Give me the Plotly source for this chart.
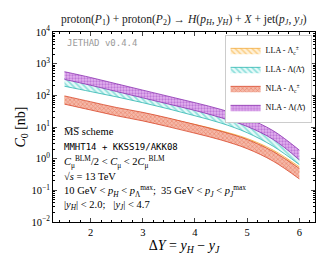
import plotly.graph_objects as go

# Delta Y grid
dy = [1.5, 2.0, 2.5, 3.0, 3.5, 4.0, 4.5, 5.0, 5.5, 6.0]

# LLA - Lambda_c
lla_lc_hi = [89.3, 58.6, 38.4, 27.0, 18.3, 12.0, 7.6, 4.33, 1.86, 0.55]
lla_lc_lo = [58.6, 38.4, 25.2, 17.1, 11.2, 7.08, 4.33, 2.38, 1.02, 0.38]
# LLA - Lambda
lla_l_hi = [340, 223, 141, 89.3, 56.5, 35.8, 21.8, 11.2, 4.33, 1.22]
lla_l_lo = [194, 131.6, 89.3, 58.6, 37.1, 22.6, 13.3, 6.6, 2.46, 0.65]
# NLA - Lambda_c
nla_lc_hi = [95.9, 62.8, 41.2, 29.0, 19.0, 12.0, 7.33, 4.03, 1.67, 0.49]
nla_lc_lo = [52.7, 34.5, 22.6, 15.6, 10.1, 6.37, 3.89, 2.07, 0.83, 0.23]
# NLA - Lambda
nla_l_hi = [557, 366, 231, 146, 92.5, 58.6, 35.8, 19.0, 7.6, 1.86]
nla_l_lo = [318, 208, 131.6, 83.2, 52.7, 33.3, 19.7, 10.4, 4.03, 0.92]

y_tickvals = [1e-2, 1e-1, 1e0, 1e1, 1e2, 1e3, 1e4]
y_ticktext = ["10<sup>−2</sup>", "10<sup>−1</sup>", "10<sup>0</sup>", "10<sup>1</sup>",
              "10<sup>2</sup>", "10<sup>3</sup>", "10<sup>4</sup>"]
y_minor = [m * 10 ** e for e in range(-2, 4) for m in range(2, 10)]

SERIF = "Liberation Serif, DejaVu Serif, serif"
MONO = "DejaVu Sans Mono, Liberation Mono, monospace"

bands = [
    ("LLA - Λ<sub>c</sub><sup>±</sup>", lla_lc_lo, lla_lc_hi, "#f2a93b",
     dict(shape="\\", fgcolor="#f5a623", bgcolor="#fff0d6", size=4, solidity=0.35)),
    ("LLA - Λ(Λ̄)", lla_l_lo, lla_l_hi, "#2bb5b0",
     dict(shape="\\", fgcolor="#34c3bd", bgcolor="#e6faf9", size=4, solidity=0.4)),
    ("NLA - Λ<sub>c</sub><sup>±</sup>", nla_lc_lo, nla_lc_hi, "#d9482b",
     dict(shape="x", fgcolor="#e0603c", bgcolor="#f5b8a8", size=3, solidity=0.4)),
    ("NLA - Λ(Λ̄)", nla_l_lo, nla_l_hi, "#8a2fb0",
     dict(shape=".", fgcolor="#9a40c0", bgcolor="#e2b2ef", size=3, solidity=0.45)),
]

fig = go.Figure()
for name, lo, hi, col, pat in bands:
    fig.add_trace(go.Scatter(x=dy, y=lo, mode="lines", line=dict(color=col, width=0.8, shape="spline"),
                             showlegend=False, hoverinfo="skip"))
    fig.add_trace(go.Scatter(x=dy, y=hi, mode="lines", line=dict(color=col, width=0.8, shape="spline"),
                             fill="tonexty", fillcolor=pat["bgcolor"], fillpattern=pat, name=name))

title = ("proton(<i>P</i><sub>1</sub>) + proton(<i>P</i><sub>2</sub>) → <i>H</i>(<i>p<sub>H</sub></i>, <i>y<sub>H</sub></i>)"
         " + <i>X</i> + jet(<i>p<sub>J</sub></i>, <i>y<sub>J</sub></i>)")

fig.update_layout(
    width=326, height=253,
    margin=dict(l=44, r=19, t=24, b=33),
    paper_bgcolor="white", plot_bgcolor="white",
    font=dict(family=SERIF, size=10, color="black"),
    showlegend=True,
    legend=dict(x=0.655, y=0.985, xanchor="left", yanchor="top",
                bgcolor="white", bordercolor="#cccccc", borderwidth=1,
                font=dict(family=SERIF, size=8), tracegroupgap=0,
                traceorder="normal", itemwidth=30),
    xaxis=dict(range=[1.28, 6.3], dtick=1, tick0=0, ticks="inside", ticklen=4,
               showline=True, linecolor="black", linewidth=1, mirror="ticks",
               showgrid=False, zeroline=False,
               tickfont=dict(family=SERIF, size=10.5),
               minor=dict(dtick=0.2, tick0=0, ticks="inside", ticklen=2, tickcolor="black"),
               title=dict(text="Δ<i>Y</i> = <i>y<sub>H</sub></i> − <i>y<sub>J</sub></i>",
                          font=dict(family=SERIF, size=14), standoff=2)),
    yaxis=dict(type="log", range=[-2, 4], tickvals=y_tickvals, ticktext=y_ticktext,
               ticks="inside", ticklen=4,
               showline=True, linecolor="black", linewidth=1, mirror="ticks",
               showgrid=False, zeroline=False,
               tickfont=dict(family=SERIF, size=10.5),
               minor=dict(tickvals=y_minor, ticks="inside", ticklen=2, tickcolor="black"),
               title=dict(text="<i>C</i><sub>0</sub> [nb]", font=dict(family=SERIF, size=14), standoff=2)),
)

fig.add_annotation(text=title, xref="paper", yref="paper", x=0.5, y=1.0, yshift=3,
                   xanchor="center", yanchor="bottom", showarrow=False,
                   font=dict(family=SERIF, size=11.5, color="#222222"))

fig.add_annotation(text="JETHAD v0.4.4", xref="paper", yref="paper", x=0.045, y=0.944,
                   xanchor="left", yanchor="middle", showarrow=False,
                   font=dict(family=MONO, size=9, color="#9a9a9a"))

lines = [
    ("M̅S̅ scheme", SERIF, 0.474),
    ("MMHT14 + KKSS19/AKK08", MONO, 0.393),
    ("<i>C</i><sub>μ</sub><sup>BLM</sup>/2 &lt; <i>C</i><sub>μ</sub> &lt; 2<i>C</i><sub>μ</sub><sup>BLM</sup>", SERIF, 0.316),
    ("√<i>s</i> = 13 TeV", SERIF, 0.240),
    ("10 GeV &lt; <i>p<sub>H</sub></i> &lt; <i>p</i><sub>Λ</sub><sup>max</sup>;  35 GeV &lt; <i>p<sub>J</sub></i> &lt; <i>p</i><sub><i>J</i></sub><sup>max</sup>", SERIF, 0.163),
    ("|<i>y<sub>H</sub></i>| &lt; 2.0;   |<i>y<sub>J</sub></i>| &lt; 4.7", SERIF, 0.087),
]
for txt, fam, yy in lines:
    fig.add_annotation(text=txt, xref="paper", yref="paper", x=0.035, y=yy,
                       xanchor="left", yanchor="middle", showarrow=False,
                       font=dict(family=fam, size=10.5 if fam == SERIF else 9))

fig.write_html("out.html")
